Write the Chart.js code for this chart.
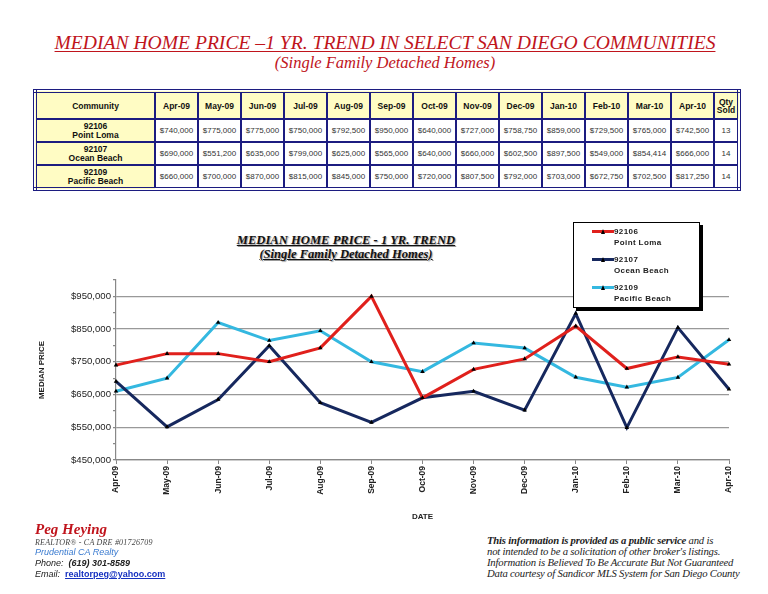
<!DOCTYPE html>
<html>
<head>
<meta charset="utf-8">
<script src="https://cdn.jsdelivr.net/npm/chart.js@4.4.0/dist/chart.umd.min.js"></script>
<style>
  body { margin: 0; width: 768px; height: 594px; background: #fff; position: relative; overflow: hidden; font-family: 'Liberation Sans', Arial, sans-serif; }
  .abs { position: absolute; }
  #pageTitle { left: 0; width: 770px; top: 32px; text-align: center; font: italic 19.6px 'Liberation Serif', serif; color: #c0141c; letter-spacing: 0; }
  #pageTitle span { text-decoration: underline; text-decoration-thickness: 1px; text-underline-offset: 2px; }
  #pageSub { left: 0; width: 770px; top: 53px; text-align: center; font: italic 16.5px 'Liberation Serif', serif; color: #c0141c; }
  #priceTable { left: 33px; top: 89px; width: 704px; border-collapse: collapse; border: 4px double #1c1c80; table-layout: fixed; }
  #priceTable td, #priceTable th { border: 2px solid #1c1c80; text-align: center; padding: 0; font-size: 8px; color: #333; }
  #priceTable th { background: #fffcc4; font-weight: bold; color: #111; height: 25px; font-size: 8.5px; }
  #priceTable td { height: 21px; }
  #priceTable td.comm { background: #fffcc4; font-weight: bold; color: #111; font-size: 8.5px; line-height: 9px; }
  #chartWrap { left: 0; top: 270px; width: 750px; height: 260px; }
  #chartTitle { left: 196px; width: 300px; top: 233px; text-align: center; font: bold italic 12.6px 'Liberation Serif', serif; color: #111; line-height: 14px; text-shadow: 1px 1px 1px #999; }
  #chartTitle div { text-decoration: underline; }
  #legend { left: 573px; top: 222px; width: 125px; height: 84px; border: 1px solid #000; background: #fff; box-shadow: 3px 3px 0 #000; }
  .lg { position: absolute; left: 18px; font-size: 8px; font-weight: bold; color: #222; letter-spacing: 0.4px; line-height: 11px; }
  .lg .sw { position: absolute; left: 0; top: 4px; width: 22px; height: 3px; }
  .lg .tri { position: absolute; left: 9px; top: 3px; width: 0; height: 0; border-left: 2.5px solid transparent; border-right: 2.5px solid transparent; border-bottom: 5px solid #000; }
  .lg .tx { margin-left: 22px; }
  #footL { left: 35px; top: 521px; }
  #peg { font: bold italic 15px 'Liberation Serif', serif; color: #c0141c; }
  #realtor { font: italic 8px 'Liberation Serif', serif; color: #444; letter-spacing: 0.2px; }
  #pru { font: italic 9px 'Liberation Sans', sans-serif; color: #3a7bd0; line-height: 11px; }
  #phone, #email { font: italic 9px 'Liberation Sans', sans-serif; color: #222; line-height: 11px; }
  #phone b { font-style: italic; }
  #email a { color: #1530c0; font-weight: bold; font-style: normal; text-decoration: underline; }
  #footR { left: 487px; top: 535px; font: italic 10.7px 'Liberation Serif', serif; color: #222; line-height: 11px; letter-spacing: -0.2px; }
</style>
</head>
<body>
<div id="pageTitle" class="abs"><span>MEDIAN HOME PRICE –1 YR. TREND IN SELECT SAN DIEGO COMMUNITIES</span></div>
<div id="pageSub" class="abs">(Single Family Detached Homes)</div>

<table id="priceTable" class="abs"></table>

<div id="chartWrap" class="abs"><canvas id="trendChart"></canvas></div>
<div id="chartTitle" class="abs"><div>MEDIAN HOME PRICE - 1 YR. TREND</div><div>(Single Family Detached Homes)</div></div>
<div id="legend" class="abs"></div>

<div id="footL" class="abs">
  <div id="peg">Peg Heying</div>
  <div id="realtor">REALTOR® - CA DRE #01726709</div>
  <div id="pru">Prudential CA Realty</div>
  <div id="phone">Phone:&nbsp; <b>(619) 301-8589</b></div>
  <div id="email">Email:&nbsp; <a>realtorpeg@yahoo.com</a></div>
</div>
<div id="footR" class="abs">
  <div><b>This information is provided as a public service</b> and is</div>
  <div>not intended to be a solicitation of other broker's listings.</div>
  <div>Information is Believed To Be Accurate But Not Guaranteed</div>
  <div>Data courtesy of Sandicor MLS System for San Diego County</div>
</div>

<script>
const months = ['Apr-09','May-09','Jun-09','Jul-09','Aug-09','Sep-09','Oct-09','Nov-09','Dec-09','Jan-10','Feb-10','Mar-10','Apr-10'];
const zips = ['92106','92107','92109'];
const areas = ['Point Loma','Ocean Beach','Pacific Beach'];
const pointLoma = [740000,775000,775000,750000,792500,950000,640000,727000,758750,859000,729500,765000,742500];
const oceanBeach = [690000,551200,635000,799000,625000,565000,640000,660000,602500,897500,549000,854414,666000];
const pacificBeach = [660000,700000,870000,815000,845000,750000,720000,807500,792000,703000,672750,702500,817250];
const qtySold = [13,14,14];
const lineColors = ['#e0201c','#16285e','#34b8e0'];
const yTicks = [450000,500000,550000,600000,650000,700000,750000,800000,850000,900000,950000,1000000];
const yLabelTicks = [450000,550000,650000,750000,850000,950000];

const money = v => '$' + v.toLocaleString('en-US');
const series = [pointLoma, oceanBeach, pacificBeach];

// table
let tab = `<colgroup><col style="width:120px">`;
months.forEach(() => { tab += `<col style="width:43px">`; });
tab += `<col style="width:25px"></colgroup>`;
tab += `<tr><th>Community</th>`;
months.forEach(m => { tab += `<th>${m}</th>`; });
tab += `<th style="line-height:8px">Qty<br>Sold</th></tr>`;
series.forEach((s, i) => {
  tab += `<tr><td class="comm">${zips[i]}<br>${areas[i]}</td>`;
  s.forEach(v => { tab += `<td>${money(v)}</td>`; });
  tab += `<td>${qtySold[i]}</td></tr>`;
});
document.getElementById('priceTable').innerHTML = tab;

// legend
let lg = '';
zips.forEach((z, i) => {
  lg += `<div class="lg" style="top:${3 + i * 28}px"><div class="sw" style="background:${lineColors[i]}"></div><div class="tri"></div><div class="tx">${z}</div><div class="tx">${areas[i]}</div></div>`;
});
document.getElementById('legend').innerHTML = lg;

const trendData = {
  labels: months,
  datasets: series.map((s, i) => ({
    label: zips[i] + ' ' + areas[i],
    data: s,
    borderColor: lineColors[i],
    backgroundColor: lineColors[i],
    borderWidth: 3,
    tension: 0,
    pointStyle: 'triangle',
    pointRadius: 2.6,
    pointBackgroundColor: '#000',
    pointBorderColor: '#000',
    pointBorderWidth: 0
  }))
};

const config = {
  type: 'line',
  data: trendData,
  options: {
    responsive: true,
    maintainAspectRatio: false,
    animation: false,
    layout: { padding: { top: 10, right: 21, left: 0, bottom: 0 } },
    plugins: { legend: { display: false }, tooltip: { enabled: false } },
    scales: {
      x: {
        offset: false,
        afterFit: s => { s.height = 70; },
        grid: { drawOnChartArea: false, drawTicks: true, tickLength: 4, color: '#888' },
        border: { color: '#888', width: 1.2 },
        ticks: { autoSkip: false, minRotation: 90, maxRotation: 90, padding: 2, color: '#222', font: { family: 'Liberation Sans', size: 8.5, weight: 'bold' } },
        title: { display: true, text: 'DATE', color: '#222', font: { family: 'Liberation Sans', size: 8, weight: 'bold' }, padding: { top: 0, bottom: 8 } }
      },
      y: {
        min: 450000,
        max: 1000000,
        afterBuildTicks: s => { s.ticks = yTicks.map(v => ({ value: v })); },
        afterFit: s => { s.width = 116; },
        grid: {
          color: ctx => (ctx.tick && yLabelTicks.includes(ctx.tick.value)) ? '#999' : 'rgba(0,0,0,0)',
          lineWidth: 1.3,
          tickColor: '#888',
          tickLength: 3
        },
        border: { color: '#888', width: 1.2 },
        ticks: {
          callback: v => yLabelTicks.includes(v) ? money(v) : '',
          padding: 2,
          color: '#222',
          font: { family: 'Liberation Sans', size: 9.6 }
        },
        title: { display: true, text: 'MEDIAN PRICE', color: '#222', font: { family: 'Liberation Sans', size: 8, weight: 'bold' }, padding: { top: 37, bottom: 0 } }
      }
    }
  }
};

const trendChart = new Chart(document.getElementById('trendChart'), config);
</script>
</body>
</html>
